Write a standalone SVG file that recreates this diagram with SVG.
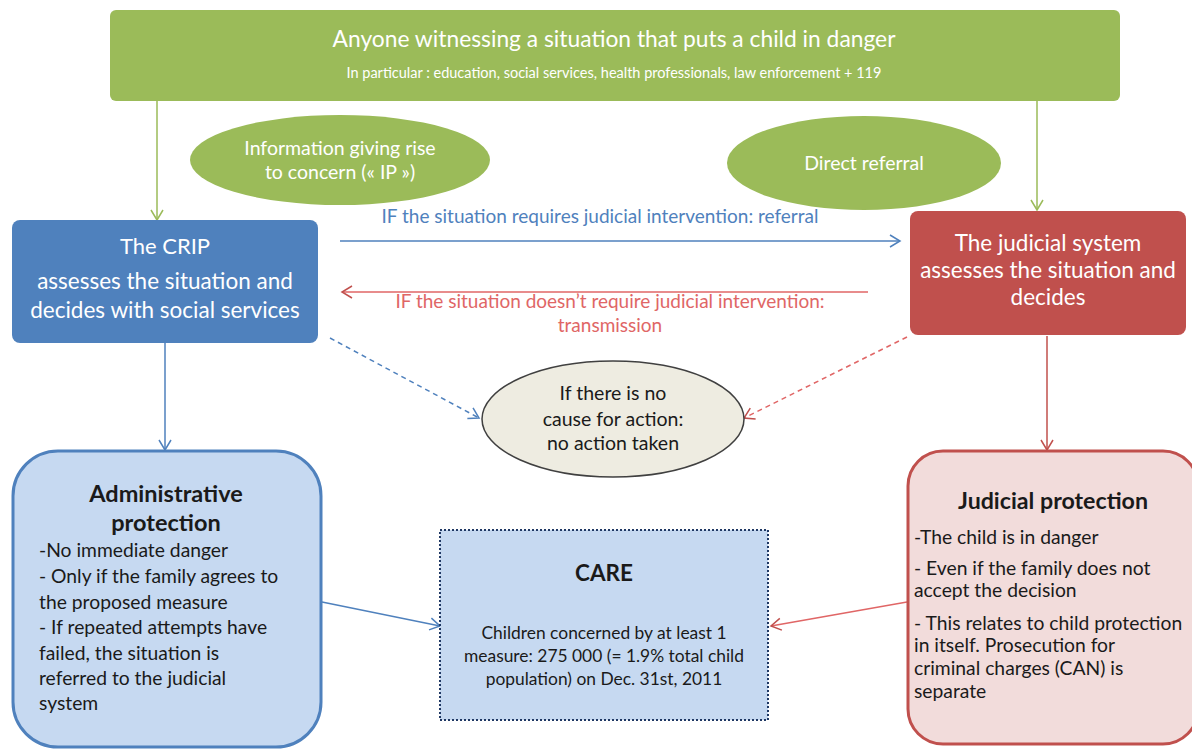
<svg xmlns="http://www.w3.org/2000/svg" width="1192" height="750" viewBox="0 0 1192 750">
<style>
text{font-family:Lato,"Liberation Sans",sans-serif}
.w{fill:#fff}
.c{text-anchor:middle}
.d{fill:#1a1a1a}
.b{font-weight:bold}
.ln{fill:none;stroke-width:1.5}
</style>
<defs>
<marker id="ag" markerWidth="14" markerHeight="14" refX="12" refY="7" orient="auto" markerUnits="userSpaceOnUse"><path d="M2,1 L12,7 L2,13" fill="none" stroke="#9BBB59" stroke-width="1.5"/></marker>
<marker id="ab" markerWidth="14" markerHeight="14" refX="12" refY="7" orient="auto" markerUnits="userSpaceOnUse"><path d="M2,1 L12,7 L2,13" fill="none" stroke="#4F81BD" stroke-width="1.5"/></marker>
<marker id="ar" markerWidth="14" markerHeight="14" refX="12" refY="7" orient="auto" markerUnits="userSpaceOnUse"><path d="M2,1 L12,7 L2,13" fill="none" stroke="#C0504D" stroke-width="1.5"/></marker>
</defs>
<rect width="1192" height="750" fill="#fff"/>

<g id="connectors">
<line class="ln" x1="157" y1="101" x2="157" y2="220" stroke="#9BBB59" marker-end="url(#ag)"/>
<line class="ln" x1="1037" y1="101" x2="1037" y2="210" stroke="#9BBB59" marker-end="url(#ag)"/>
<line class="ln" x1="340" y1="241" x2="900" y2="241" stroke="#4F81BD" marker-end="url(#ab)"/>
<text x="600" y="223" class="c" font-size="19" fill="#4F81BD">IF the situation requires judicial intervention: referral</text>
<line class="ln" x1="868" y1="292" x2="342" y2="292" stroke="#E06666" marker-end="url(#ar)"/>
<text x="610" y="308" class="c" font-size="19" fill="#E06666">IF the situation doesn’t require judicial intervention:</text>
<text x="610" y="332" class="c" font-size="19" fill="#E06666">transmission</text>
<line class="ln" x1="330" y1="338" x2="479" y2="418" stroke="#4F81BD" stroke-dasharray="5,4" marker-end="url(#ab)"/>
<line class="ln" x1="907" y1="337" x2="744" y2="418" stroke="#E06666" stroke-dasharray="5,4" marker-end="url(#ar)"/>
<line class="ln" x1="165" y1="343" x2="165" y2="450" stroke="#4F81BD" marker-end="url(#ab)"/>
<line class="ln" x1="1047" y1="336" x2="1047" y2="450" stroke="#C0504D" marker-end="url(#ar)"/>
<line class="ln" x1="322" y1="602" x2="440" y2="626" stroke="#4F81BD" marker-end="url(#ab)"/>
<line class="ln" x1="907" y1="602" x2="771" y2="626" stroke="#E06666" marker-end="url(#ar)"/>
</g>

<g id="top">
<rect x="110" y="10" width="1010" height="91" rx="6" fill="#9BBB59"/>
<text x="614" y="47" class="c w" font-size="22.8">Anyone witnessing a situation that puts a child in danger</text>
<text x="614" y="78" class="c w" font-size="14.5">In particular : education, social services, health professionals,  law enforcement + 119</text>
</g>

<g id="ip">
<ellipse cx="340" cy="160" rx="150" ry="45" fill="#9BBB59"/>
<text x="340" y="155" class="c w" font-size="19.5">Information giving rise</text>
<text x="340" y="179" class="c w" font-size="19.5">to concern (« IP »)</text>
</g>

<g id="direct">
<ellipse cx="864" cy="163" rx="137" ry="47" fill="#9BBB59"/>
<text x="864" y="170" class="c w" font-size="19.5">Direct referral</text>
</g>

<g id="crip">
<rect x="12" y="220" width="306" height="123" rx="8" fill="#4F81BD"/>
<text x="165" y="254" class="c w" font-size="22">The CRIP</text>
<text x="165" y="289" class="c w" font-size="22.5">assesses the situation and</text>
<text x="165" y="318" class="c w" font-size="22.5">decides with social services</text>
</g>

<g id="judicial">
<rect x="910" y="211" width="276" height="124" rx="8" fill="#C0504D"/>
<text x="1048" y="251" class="c w" font-size="22.5">The judicial system</text>
<text x="1048" y="278" class="c w" font-size="22.5">assesses the situation and</text>
<text x="1048" y="305" class="c w" font-size="22.5">decides</text>
</g>

<g id="noaction">
<ellipse cx="613" cy="419" rx="131" ry="58" fill="#EEECE1" stroke="#404040" stroke-width="1.5"/>
<text x="613" y="400" class="c d" font-size="19.5">If there is no</text>
<text x="613" y="426" class="c d" font-size="19.5">cause for action:</text>
<text x="613" y="450" class="c d" font-size="19.5">no action taken</text>
</g>

<g id="admin">
<rect x="13" y="451" width="308" height="296" rx="45" fill="#C6D9F1" stroke="#4F81BD" stroke-width="3"/>
<text x="166" y="502" class="c d b" font-size="23.5">Administrative</text>
<text x="166" y="531" class="c d b" font-size="23.5">protection</text>
<g class="d" font-size="19.3">
<text x="39" y="557">-No immediate danger</text>
<text x="39" y="583">- Only if the  family agrees to</text>
<text x="39" y="609">the proposed  measure</text>
<text x="39" y="634">- If repeated attempts have</text>
<text x="39" y="660">failed, the situation is</text>
<text x="39" y="685">referred to the judicial</text>
<text x="39" y="710">system</text>
</g>
</g>

<g id="care">
<rect x="440" y="530" width="328" height="190" fill="#C6D9F1" stroke="#1F3864" stroke-width="2" stroke-dasharray="2,2"/>
<text x="604" y="581" class="c d b" font-size="22.5">CARE</text>
<text x="604" y="639" class="c d" font-size="17.4">Children concerned by at least 1</text>
<text x="604" y="662" class="c d" font-size="17.4">measure: 275 000  (= 1.9% total child</text>
<text x="604" y="685" class="c d" font-size="17.4">population) on Dec. 31st, 2011</text>
</g>

<g id="judprot">
<rect x="908" y="451" width="290" height="293" rx="35" fill="#F2DCDB" stroke="#C0504D" stroke-width="3"/>
<text x="1053" y="509" class="c d b" font-size="23.2">Judicial protection</text>
<g class="d" font-size="19.3">
<text x="914" y="544">-The child is in danger</text>
<text x="914" y="575">- Even if the  family does not</text>
<text x="914" y="597">accept the decision</text>
<text x="914" y="630">- This relates to child protection</text>
<text x="914" y="652">in itself. Prosecution for</text>
<text x="914" y="675">criminal charges (CAN) is</text>
<text x="914" y="698">separate</text>
</g>
</g>
</svg>
